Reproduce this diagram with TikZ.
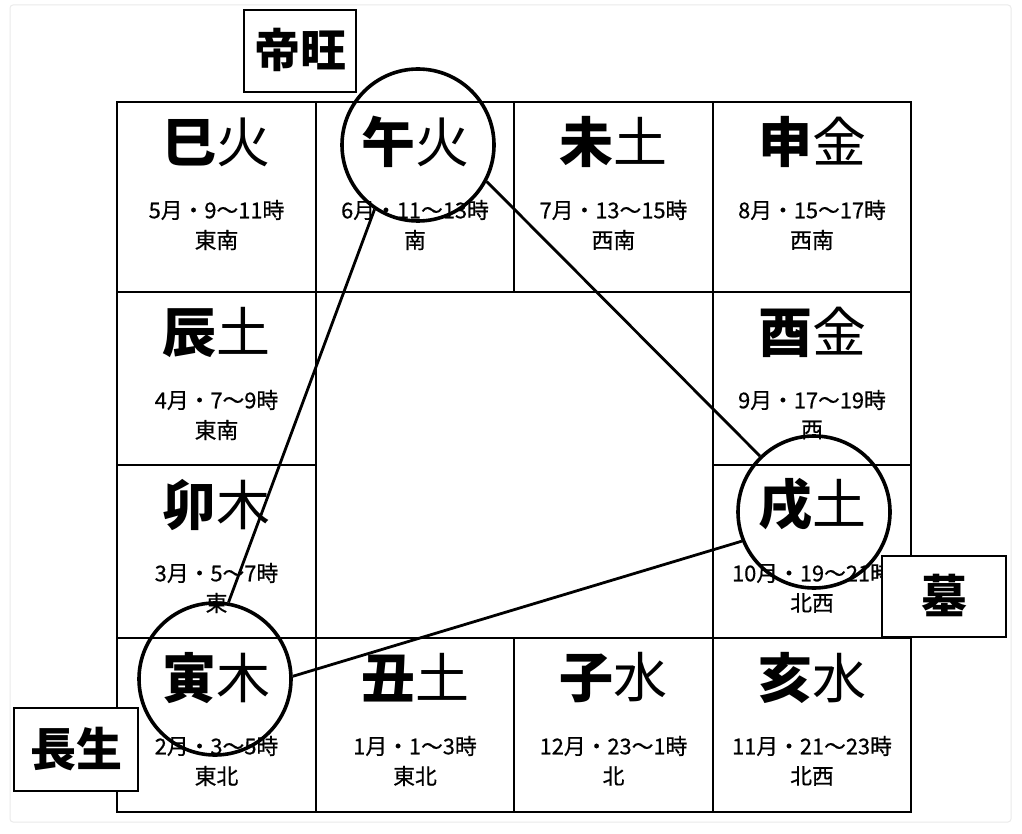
\documentclass[tikz,border=0pt]{standalone}
\usepackage{fontspec}
\newfontfamily\jp{Noto Sans CJK JP}
\newfontfamily\jpm{Noto Sans CJK JP}[FakeBold=0.5]
\begin{document}
\begin{tikzpicture}[x=1pt,y=-1pt,
  gridline/.style={line width=2.8pt, line cap=rect},
  bigtxt/.style={inner sep=0pt, font=\jp\fontsize{54}{60}\selectfont},
  smalltxt/.style={inner sep=0pt, font=\jpm\fontsize{21.8}{24}\selectfont},
  ring/.style={circle, draw, line width=3.6pt, minimum size=152pt, inner sep=0pt},
  conn/.style={line width=2.8pt},
  labelbox/.style={draw, fill=white, line width=1.8pt, inner sep=0pt, font=\jp\bfseries\fontsize{46}{50}\selectfont}
]
\useasboundingbox (0,0) rectangle (1022,834);
\fill[white] (0,0) rectangle (1022,834);
\draw[black!8, line width=1pt, rounded corners=3pt] (10,5) rectangle (1011,822);

% grid
\draw[gridline] (117,102) rectangle (911,812);
\draw[gridline] (316,102) -- (316,812);
\draw[gridline] (713,102) -- (713,812);
\draw[gridline] (514,102) -- (514,292);
\draw[gridline] (514,638) -- (514,812);
\draw[gridline] (117,292) -- (911,292);
\draw[gridline] (117,638) -- (911,638);
\draw[gridline] (117,465) -- (316,465);
\draw[gridline] (713,465) -- (911,465);

\newcommand\gcell[7]{%
  \node[bigtxt] (#1-b) at (#2,#3+40) {{\bfseries #4}#5};
  \node[smalltxt] (#1-t) at (#2,#3+108) {#6};
  \node[smalltxt] (#1-d) at (#2,#3+138) {#7};
}
\gcell{si}{216.5}{102}{巳}{火}{5月・9〜11時}{東南}
\gcell{wuc}{415}{102}{午}{火}{6月・11〜13時}{南}
\gcell{wei}{613.5}{102}{未}{土}{7月・13〜15時}{西南}
\gcell{shen}{812}{102}{申}{金}{8月・15〜17時}{西南}
\gcell{chen}{216.5}{292}{辰}{土}{4月・7〜9時}{東南}
\gcell{you}{812}{292}{酉}{金}{9月・17〜19時}{西}
\gcell{mao}{216.5}{465}{卯}{木}{3月・5〜7時}{東}
\gcell{xuc}{812}{465}{戌}{土}{10月・19〜21時}{北西}
\gcell{yinc}{216.5}{638}{寅}{木}{2月・3〜5時}{東北}
\gcell{chou}{415}{638}{丑}{土}{1月・1〜3時}{東北}
\gcell{zi}{613.5}{638}{子}{水}{12月・23〜1時}{北}
\gcell{hai}{812}{638}{亥}{水}{11月・21〜23時}{北西}

% circles
\node[ring] (wu) at (418,145) {};
\node[ring] (xu) at (814,512) {};
\node[ring] (yin) at (215,679) {};

% connectors
\draw[conn] (wu.236) -- (yin.80);
\draw[conn] (wu.-28) -- (xu.134);
\draw[conn] (yin.2) -- (xu.202);

% labels
\node[labelbox, minimum width=112pt, minimum height=82pt] (diwang) at (300,51) {\raisebox{6pt}{帝旺}};
\node[labelbox, minimum width=124pt, minimum height=81pt] (mu) at (944,596.5) {\raisebox{6pt}{墓}};
\node[labelbox, minimum width=124pt, minimum height=83pt] (changsheng) at (76,749.5) {\raisebox{6pt}{長生}};
\end{tikzpicture}
\end{document}
